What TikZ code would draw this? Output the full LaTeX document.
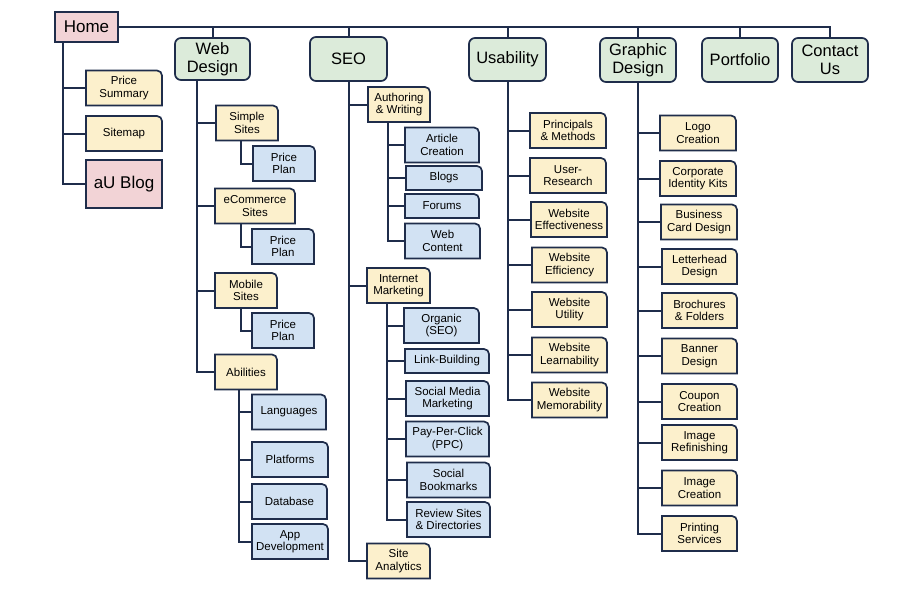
\documentclass[tikz,border=0pt]{standalone}
\usepackage{fontspec}
\setmainfont{Liberation Sans}
\usepackage{tikz}
\usetikzlibrary{backgrounds}
\definecolor{edge}{HTML}{1F2D4B}
\definecolor{softgreen}{HTML}{DCEBDA}
\definecolor{softyellow}{HTML}{FCF0CC}
\definecolor{softblue}{HTML}{D2E2F3}
\definecolor{softpink}{HTML}{F2D3D6}

\begin{document}
\begin{tikzpicture}[
    x=1pt, y=-1pt,
    every node/.style={font=\fontsize{11.5}{12.5}\selectfont, inner sep=0pt, outer sep=0pt, align=center},
    mainpage/.style={rectangle, rounded corners=6pt, draw=edge, fill=softgreen, line width=1.7pt, minimum width=76pt, minimum height=44pt, font=\fontsize{16.5}{17.8}\selectfont},
    pinkbox/.style={rectangle, draw=edge, fill=softpink, line width=1.7pt, font=\fontsize{17}{19}\selectfont},
    leaf/.style={rectangle, minimum width=76pt, minimum height=35pt},
    narrow/.style={leaf, minimum width=62pt},
    link/.style={draw=edge, line width=2pt}
]
\useasboundingbox (0,0) rectangle (920,600);

\node[pinkbox, minimum width=63pt, minimum height=30pt] (home) at (86.5,27) {Home};
\node[leaf] (ps) at (124,88) {Price\\Summary};
\node[leaf] (sm) at (124,133.5) {Sitemap};
\node[pinkbox, minimum width=76pt, minimum height=48pt] (blog) at (124,184) {aU Blog};

\node[mainpage, minimum width=75pt, minimum height=42pt] (wd) at (212.5,59) {Web\\Design};
\node[narrow] (ss) at (247,123) {Simple\\Sites};
\node[narrow] (pp1) at (284,163.5) {Price\\Plan};
\node[leaf, minimum width=80pt] (ec) at (255,206) {eCommerce\\Sites};
\node[narrow] (pp2) at (283,246.5) {Price\\Plan};
\node[narrow] (ms) at (246,290.5) {Mobile\\Sites};
\node[narrow] (pp3) at (283,330.5) {Price\\Plan};
\node[narrow] (ab) at (246,372) {Abilities};
\node[leaf, minimum width=74pt] (lang) at (289,412) {Languages};
\node[leaf] (plat) at (290,459.5) {Platforms};
\node[leaf, minimum width=75pt] (db) at (289.5,501.5) {Database};
\node[leaf] (app) at (290,541.5) {App\\Development};

\node[mainpage, minimum width=77pt] (seo) at (348.5,59) {SEO};
\node[narrow] (aw) at (399,104.5) {Authoring\\\& Writing};
\node[leaf, minimum width=74pt] (art) at (442,145) {Article\\Creation};
\node[leaf, minimum height=24pt] (blogs) at (444,178) {Blogs};
\node[leaf, minimum width=74pt, minimum height=24pt] (forums) at (442,206) {Forums};
\node[leaf, minimum width=75pt] (wc) at (442.5,241) {Web\\Content};
\node[narrow, minimum width=63pt] (im) at (398.5,285.5) {Internet\\Marketing};
\node[leaf, minimum width=75pt] (org) at (441.5,325.5) {Organic\\(SEO)};
\node[leaf, minimum width=84pt, minimum height=24pt] (lb) at (447,361) {Link-Building};
\node[leaf, minimum width=83pt] (smm) at (447.5,398.5) {Social Media\\Marketing};
\node[leaf, minimum width=83pt] (ppc) at (447.5,439) {Pay-Per-Click\\(PPC)};
\node[leaf, minimum width=83pt] (sb) at (448.5,480) {Social\\Bookmarks};
\node[leaf, minimum width=83pt] (rs) at (448.5,519.5) {Review Sites\\\& Directories};
\node[narrow, minimum width=63pt] (sa) at (398.5,561) {Site\\Analytics};

\node[mainpage, minimum width=77pt, minimum height=43pt] (us) at (507.5,59.5) {Usability};
\node[leaf] (pm) at (568,130.5) {Principals\\\& Methods};
\node[leaf] (ur) at (568,175.5) {User-\\Research};
\node[leaf] (we) at (569,219.5) {Website\\Effectiveness};
\node[leaf, minimum width=75pt] (wef) at (569.5,265) {Website\\Efficiency};
\node[leaf, minimum width=75pt] (wu) at (569.5,309.5) {Website\\Utility};
\node[leaf, minimum width=75pt] (wl) at (569.5,355) {Website\\Learnability};
\node[leaf, minimum width=75pt] (wm) at (569.5,400) {Website\\Memorability};

\node[mainpage] (gd) at (638,60) {Graphic\\Design};
\node[mainpage] (pf) at (740,60) {Portfolio};
\node[mainpage] (cu) at (830,60) {Contact\\Us};
\node[leaf] (lc) at (698,133) {Logo\\Creation};
\node[leaf] (cik) at (698,178.5) {Corporate\\Identity Kits};
\node[leaf] (bcd) at (699,222) {Business\\Card Design};
\node[leaf, minimum width=75pt] (lh) at (699.5,266.5) {Letterhead\\Design};
\node[leaf, minimum width=75pt] (bf) at (699.5,310.5) {Brochures\\\& Folders};
\node[leaf, minimum width=75pt] (bd) at (699.5,356) {Banner\\Design};
\node[leaf, minimum width=75pt] (cc) at (699.5,401.5) {Coupon\\Creation};
\node[leaf, minimum width=75pt] (ir) at (699.5,442.5) {Image\\Refinishing};
\node[leaf, minimum width=75pt] (ic) at (699.5,488) {Image\\Creation};
\node[leaf, minimum width=75pt] (prs) at (699.5,533.5) {Printing\\Services};

\foreach \c in {wd,seo,us,gd,pf,cu} \draw[link] (home.east) -| (\c.north);
\foreach \c in {ps,sm,blog} \draw[link] ([xshift=8pt]home.south west) |- (\c.west);
\foreach \c in {ss,ec,ms,ab} \draw[link] ([xshift=22pt]wd.south west) |- (\c.west);
\draw[link] ([xshift=25pt]ss.south west) |- (pp1.west);
\draw[link] ([xshift=26pt]ec.south west) |- (pp2.west);
\draw[link] ([xshift=26pt]ms.south west) |- (pp3.west);
\foreach \c in {lang,plat,db,app} \draw[link] ([xshift=24pt]ab.south west) |- (\c.west);
\foreach \c in {aw,im,sa} \draw[link] (seo.south) |- (\c.west);
\foreach \c in {art,blogs,forums,wc} \draw[link] ([xshift=20pt]aw.south west) |- (\c.west);
\foreach \c in {org,lb,smm,ppc,sb,rs} \draw[link] ([xshift=20pt]im.south west) |- (\c.west);
\foreach \c in {pm,ur,we,wef,wu,wl,wm} \draw[link] (us.south) |- (\c.west);
\foreach \c in {lc,cik,bcd,lh,bf,bd,cc,ir,ic,prs} \draw[link] (gd.south) |- (\c.west);

\begin{scope}[on background layer]
\foreach \n/\f in {ps/softyellow,sm/softyellow,ss/softyellow,ec/softyellow,ms/softyellow,ab/softyellow,
    aw/softyellow,im/softyellow,sa/softyellow,pm/softyellow,ur/softyellow,we/softyellow,wef/softyellow,
    wu/softyellow,wl/softyellow,wm/softyellow,lc/softyellow,cik/softyellow,bcd/softyellow,lh/softyellow,
    bf/softyellow,bd/softyellow,cc/softyellow,ir/softyellow,ic/softyellow,prs/softyellow,
    pp1/softblue,pp2/softblue,pp3/softblue,lang/softblue,plat/softblue,db/softblue,app/softblue,
    art/softblue,blogs/softblue,forums/softblue,wc/softblue,org/softblue,lb/softblue,smm/softblue,
    ppc/softblue,sb/softblue,rs/softblue}
  \draw[draw=edge, fill=\f, line width=1.7pt] (\n.south west) -- (\n.north west)
    -- ([xshift=-5pt]\n.north east) arc[start angle=90, end angle=0, radius=5pt] -- (\n.south east) -- cycle;
\end{scope}
\end{tikzpicture}
\end{document}
